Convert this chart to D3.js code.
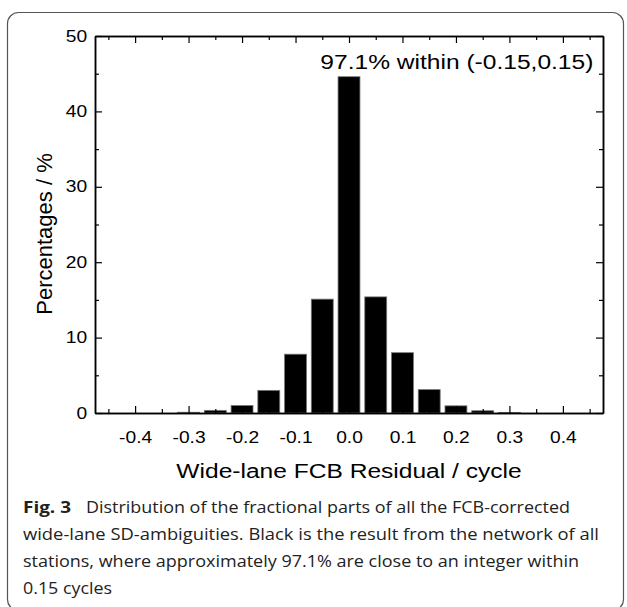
<!DOCTYPE html>
<html>
<head>
<meta charset="utf-8">
<script src="https://cdn.jsdelivr.net/npm/d3@7"></script>
<style>
  body { margin: 0; background: #fff; }
  svg { display: block; }
</style>
</head>
<body>
<div id="chart"></div>
<script>
// histogram bins (cycle) and share of SD-ambiguities (%)
const binCenters = [-0.45, -0.4, -0.35, -0.3, -0.25, -0.2, -0.15, -0.1, -0.05, 0,
                    0.05, 0.1, 0.15, 0.2, 0.25, 0.3, 0.35, 0.4, 0.45];
const percentages = [0, 0, 0, 0.1, 0.35, 1.0, 3.0, 7.8, 15.1, 44.6,
                     15.4, 8.0, 3.1, 0.95, 0.3, 0.08, 0, 0, 0];

const xTickValues = [-0.4, -0.3, -0.2, -0.1, 0, 0.1, 0.2, 0.3, 0.4];
const xTickLabels = ["-0.4", "-0.3", "-0.2", "-0.1", "0.0", "0.1", "0.2", "0.3", "0.4"];
const xMinorTicks = [-0.45, -0.35, -0.25, -0.15, -0.05, 0.05, 0.15, 0.25, 0.35, 0.45];
const yTickValues = [0, 10, 20, 30, 40, 50];
const yMinorTicks = [5, 15, 25, 35, 45];

const xTitle = "Wide-lane FCB Residual / cycle";
const yTitle = "Percentages / %";
const note = "97.1% within (-0.15,0.15)";
const captionLabel = "Fig. 3";
const captionLines = [
    "Distribution of the fractional parts of all the FCB-corrected",
    "wide-lane SD-ambiguities. Black is the result from the network of all",
    "stations, where approximately 97.1% are close to an integer within",
    "0.15 cycles"
];

const width = 627,
      height = 607,
      margin = ({ top: 36, right: 24, bottom: 194, left: 95 });
const stretch = 1.17; // text in the figure is a bit wide
const barWidth = 0.041;

let svg = d3.select("#chart")
    .append("svg")
    .attr("width", width)
    .attr("height", height);

// rounded frame around figure + caption
svg.append("rect")
    .attr("x", 7.5)
    .attr("y", 12.5)
    .attr("width", 616)
    .attr("height", 598)
    .attr("rx", 11)
    .attr("fill", "none")
    .attr("stroke", "#555")
    .attr("stroke-width", 1.2);

let x = d3.scaleLinear()
    .domain([-0.475, 0.475])
    .range([margin.left, width - margin.right]);

let y = d3.scaleLinear()
    .domain([0, 50])
    .range([height - margin.bottom, margin.top]);

// bars
svg.selectAll(".bar")
    .data(binCenters)
    .join("rect")
    .attr("class", "bar")
    .attr("x", d => x(d - barWidth / 2))
    .attr("width", x(barWidth) - x(0))
    .attr("y", (d, i) => y(percentages[i]))
    .attr("height", (d, i) => y(0) - y(percentages[i]))
    .attr("fill", "#000")
    .attr("stroke", "#777")
    .attr("stroke-width", 0.8);

const font = "'Liberation Sans', Arial, sans-serif";

function styleAxis(g) {
    g.select(".domain").attr("stroke", "#000").attr("stroke-width", 1.5);
    g.selectAll(".tick line").attr("stroke", "#000").attr("stroke-width", 1.2);
    g.selectAll("text")
        .attr("font-family", font)
        .attr("font-size", 16)
        .attr("fill", "#000")
        .attr("transform", "scale(1.2,1)");
}

// bottom axis
svg.append("g")
    .attr("transform", `translate(0,${y(0)})`)
    .call(d3.axisBottom(x).tickValues(xTickValues)
        .tickFormat((d, i) => xTickLabels[i])
        .tickSizeInner(-7).tickSizeOuter(0).tickPadding(19))
    .call(styleAxis);
svg.append("g")
    .attr("transform", `translate(0,${y(0)})`)
    .call(d3.axisBottom(x).tickValues(xMinorTicks).tickFormat("")
        .tickSizeInner(-4).tickSizeOuter(0))
    .call(styleAxis);

// top axis
svg.append("g")
    .attr("transform", `translate(0,${y(50)})`)
    .call(d3.axisTop(x).tickValues(xTickValues).tickFormat("")
        .tickSizeInner(-7).tickSizeOuter(0))
    .call(styleAxis);
svg.append("g")
    .attr("transform", `translate(0,${y(50)})`)
    .call(d3.axisTop(x).tickValues(xMinorTicks).tickFormat("")
        .tickSizeInner(-4).tickSizeOuter(0))
    .call(styleAxis);

// left axis
svg.append("g")
    .attr("transform", `translate(${x(-0.475)},0)`)
    .call(d3.axisLeft(y).tickValues(yTickValues)
        .tickSizeInner(-7).tickSizeOuter(0).tickPadding(6.5))
    .call(styleAxis);
svg.append("g")
    .attr("transform", `translate(${x(-0.475)},0)`)
    .call(d3.axisLeft(y).tickValues(yMinorTicks).tickFormat("")
        .tickSizeInner(-4).tickSizeOuter(0))
    .call(styleAxis);

// right axis
svg.append("g")
    .attr("transform", `translate(${x(0.475)},0)`)
    .call(d3.axisRight(y).tickValues(yTickValues).tickFormat("")
        .tickSizeInner(-7).tickSizeOuter(0))
    .call(styleAxis);
svg.append("g")
    .attr("transform", `translate(${x(0.475)},0)`)
    .call(d3.axisRight(y).tickValues(yMinorTicks).tickFormat("")
        .tickSizeInner(-4).tickSizeOuter(0))
    .call(styleAxis);

// annotation inside plot
svg.append("text")
    .attr("transform", `translate(${x(0.457)},69) scale(${stretch},1)`)
    .attr("text-anchor", "end")
    .attr("font-family", font)
    .attr("font-size", 21)
    .text(note);

// axis titles
svg.append("text")
    .attr("transform", `translate(${x(0)},478) scale(${stretch},1)`)
    .attr("text-anchor", "middle")
    .attr("font-family", font)
    .attr("font-size", 21)
    .text(xTitle);

svg.append("text")
    .attr("transform", "translate(52,234) rotate(-90)")
    .attr("text-anchor", "middle")
    .attr("font-family", font)
    .attr("font-size", 22)
    .text(yTitle);

// caption
const capFont = "'Open Sans', 'Noto Sans', sans-serif";
svg.append("text")
    .attr("x", 23)
    .attr("y", 513)
    .attr("font-family", capFont)
    .attr("font-weight", "bold")
    .attr("font-size", 16)
    .attr("fill", "#222")
    .attr("textLength", 48)
    .attr("lengthAdjust", "spacingAndGlyphs")
    .text(captionLabel);

const capStarts = [86, 23, 23, 23],
      capEnds = [570, 599, 579, 112];
captionLines.forEach((line, i) => {
    svg.append("text")
        .attr("x", capStarts[i])
        .attr("y", 513 + i * 27)
        .attr("font-family", capFont)
        .attr("font-size", 16)
        .attr("fill", "#222")
        .attr("textLength", capEnds[i] - capStarts[i])
        .attr("lengthAdjust", "spacingAndGlyphs")
        .text(line);
});
</script>
</body>
</html>
